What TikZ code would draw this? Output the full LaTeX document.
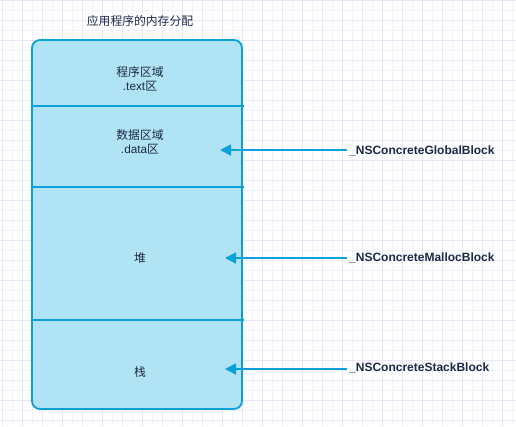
\documentclass[tikz,border=0pt]{standalone}
\usepackage{fontspec}
\setmainfont{Liberation Sans}
\newfontfamily\cjk{Noto Sans CJK SC}
\usetikzlibrary{arrows.meta}
\definecolor{gridminor}{HTML}{F1F1FC}
\definecolor{gridmajor}{HTML}{E6E6F8}
\definecolor{boxfill}{HTML}{B0E3F3}
\definecolor{boxline}{HTML}{0AA0D8}
\definecolor{txt}{HTML}{1C2A48}
\tikzset{
  cjktext/.style={text=txt, font=\cjk\fontsize{11.8}{14}\selectfont, align=center, inner sep=0pt},
  blocklabel/.style={text=txt, font=\bfseries\fontsize{12}{14}\selectfont, anchor=west, inner sep=0pt},
  pointer/.style={draw=boxline, line width=1.8pt, -{Triangle[length=11pt,width=11pt]}},
  divider/.style={draw=boxline, line width=1.5pt},
}
\begin{document}
\begin{tikzpicture}[x=1pt,y=-1pt]
\useasboundingbox (0,0) rectangle (516,426);
\fill[white] (0,0) rectangle (516,426);
% grid
\foreach \x in {2.5,12.5,...,516} \draw[gridminor, line width=0.8pt] (\x,0) -- (\x,426);
\foreach \y in {0,10,...,426} \draw[gridminor, line width=0.8pt] (0,\y) -- (516,\y);
\foreach \x in {2.5,22.5,...,516} \draw[gridmajor, line width=0.8pt] (\x,0) -- (\x,426);
\foreach \y in {0,20,...,426} \draw[gridmajor, line width=0.8pt] (0,\y) -- (516,\y);
% title
\node[cjktext] (title) at (140,21) {应用程序的内存分配};
% memory box
\draw[boxline, fill=boxfill, line width=1.8pt, rounded corners=8pt] (32,40) rectangle (242,409);
\node[inner sep=0pt, minimum width=210pt, minimum height=369pt] (mem) at (137,224.5) {};
\draw[divider] (33,106) -- (244,106);
\draw[divider] (33,187) -- (244,187);
\draw[divider] (33,320) -- (244,320);
% sections
\node[cjktext] (text) at (140,79) {程序区域\\{\fontspec{Liberation Sans}.text}区};
\node[cjktext] (data) at (140,142) {数据区域\\{\fontspec{Liberation Sans}.data}区};
\node[cjktext] (heap) at (140,258) {堆};
\node[cjktext] (stack) at (140,372) {栈};
% anchor points
\coordinate (pg) at (220,150);
\coordinate (pm) at (225,258);
\coordinate (ps) at (225,369);
% labels
\node[blocklabel] (global) at (349,151) {\_NSConcreteGlobalBlock};
\node[blocklabel] (malloc) at (349,258) {\_NSConcreteMallocBlock};
\node[blocklabel] (stackb) at (349,368) {\_NSConcreteStackBlock};
\draw[pointer] (global.west) ++(-2,-1) -- (pg);
\draw[pointer] (malloc.west) ++(-2,0) -- (pm);
\draw[pointer] (stackb.west) ++(-2,1) -- (ps);
\end{tikzpicture}
\end{document}
